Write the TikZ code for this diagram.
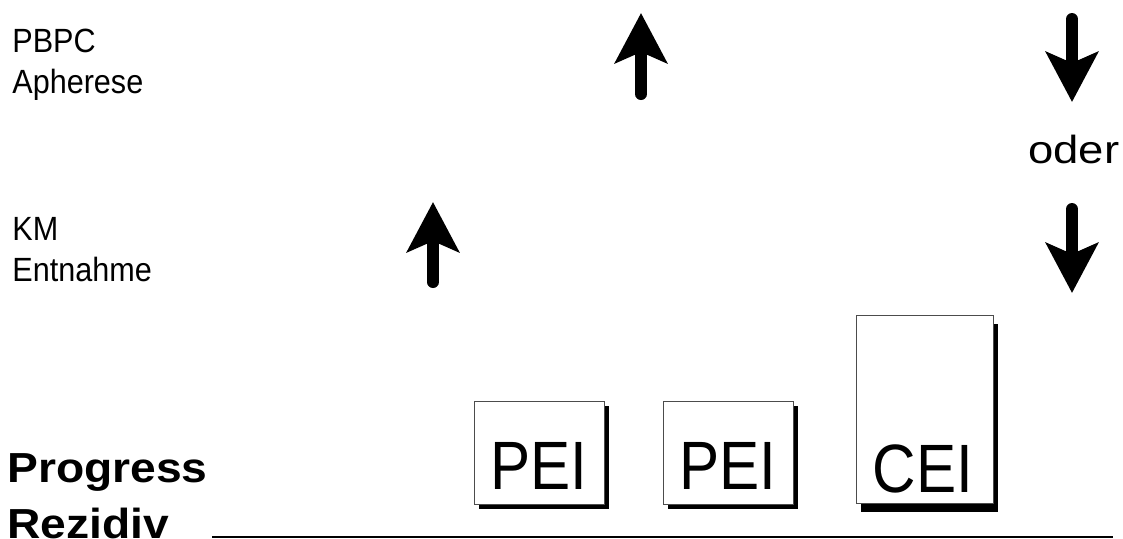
\documentclass[tikz,border=0pt]{standalone}
\usepackage{fontspec}
\setmainfont{Liberation Sans}
\newfontfamily\labelfont[FakeStretch=0.91]{Liberation Sans}
\newfontfamily\headfont[FakeStretch=1.1]{Liberation Sans Bold}
\newfontfamily\eifont[FakeStretch=0.88]{Liberation Sans}
\newfontfamily\oderfont[FakeStretch=1.16]{Liberation Sans}
\usetikzlibrary{positioning, arrows.meta, shadows}

\begin{document}
\begin{tikzpicture}[x=0.5pt, y=-0.5pt,
                lbl/.style={inner sep=0pt, anchor=base west,
                  font=\labelfont\fontsize{16.8}{20}\selectfont},
                headlbl/.style={inner sep=0pt, anchor=base west,
                  font=\headfont\fontsize{21}{28}\selectfont},
                eibox/.style={
                  draw=black!70, line width=0.5pt, fill=white, inner sep=0pt,
                  drop shadow={fill=black, opacity=1, shadow xshift=2.5pt, shadow yshift=-#1}
                },
                eibox/.default=2.5pt,
                eilbl/.style={inner sep=0pt, anchor=base,
                  font=\eifont\fontsize{34.2}{40}\selectfont},
                bigarrow/.style={line width=6pt, line cap=round,
                  -{Stealth[length=25pt, width=26pt, inset=5.5pt]}}
              ]
  \useasboundingbox (0,0) rectangle (1123,538);

  % left labels
  \node [lbl] at (12,52) (pbpc) {PBPC};
  \node [lbl, below=20.5pt of pbpc.base west, anchor=base west] (apherese) {Apherese};
  \node [lbl] at (12,240) (km) {KM};
  \node [lbl, below=20.5pt of km.base west, anchor=base west] (entnahme) {Entnahme};
  \node [headlbl] at (7,482) (progress) {Progress};
  \node [headlbl, below=28pt of progress.base west, anchor=base west] (rezidiv) {Rezidiv};

  % boxes
  \node [eibox, minimum width=65pt, minimum height=51.5pt] at (539,452.5) (pei1box) {};
  \node [eilbl] at (539,489) (pei1) {PEI};
  \node [eibox, minimum width=65pt, minimum height=51.5pt] at (728,452.5) (pei2box) {};
  \node [eilbl] at (728,489) (pei2) {PEI};
  \node [eibox=4.5pt, minimum width=68.5pt, minimum height=94pt] at (924.5,409) (ceibox) {};
  \node [eilbl] at (923,492) (cei) {CEI};

  \node [inner sep=0pt, anchor=base west, font=\oderfont\fontsize{19.6}{24}\selectfont]
    at (1028,163) (oder) {oder};

  % arrows
  \coordinate (pbpc foot) at (641,94);
  \coordinate (pbpc tip) at (641,13);
  \coordinate (km foot) at (433,282);
  \coordinate (km tip) at (433,202);
  \coordinate (oder top) at (1072,19);
  \coordinate (oder tip) at (1072,102);
  \coordinate (oder low) at (1072,209);
  \coordinate (oder lowtip) at (1072,293);
  \draw [bigarrow] (pbpc foot) -- (pbpc tip);
  \draw [bigarrow] (km foot) -- (km tip);
  \draw [bigarrow] (oder top) -- (oder tip);
  \draw [bigarrow] (oder low) -- (oder lowtip);

  % time line
  \coordinate (line start) at (212,537);
  \coordinate (line end) at (1113,537);
  \draw [line width=1pt] (line start) -- (line end);
\end{tikzpicture}
\end{document}
